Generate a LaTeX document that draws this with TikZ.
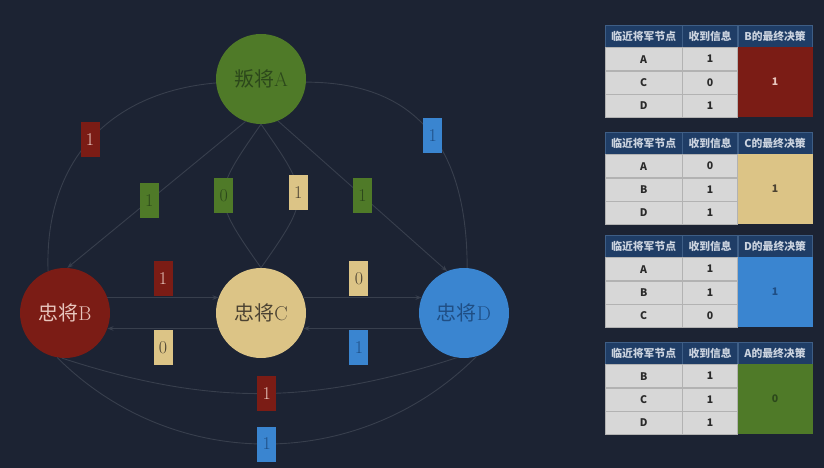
\documentclass[tikz,border=0pt]{standalone}
\usepackage{fontspec}
\newfontfamily\cjk{Noto Sans CJK SC}
\usetikzlibrary{arrows.meta}

\definecolor{bg}{HTML}{1C2333}
\definecolor{edge}{HTML}{383F4D}
\definecolor{colA}{HTML}{4F7A28}
\definecolor{colB}{HTML}{7B1C15}
\definecolor{colC}{HTML}{DCC486}
\definecolor{colD}{HTML}{3A85D0}
\definecolor{txtA}{HTML}{2C481B}
\definecolor{txtB}{HTML}{E8C6BE}
\definecolor{txtC}{HTML}{4B4232}
\definecolor{txtD}{HTML}{1F4E84}
\definecolor{head}{HTML}{1F3D66}
\definecolor{headline}{HTML}{3E5E86}
\definecolor{headtxt}{HTML}{CBD3DF}
\definecolor{cell}{HTML}{D7D7D7}
\definecolor{cellline}{HTML}{B2B2B2}
\definecolor{celltxt}{HTML}{2A2A2A}

\begin{document}
\begin{tikzpicture}[x=1pt,y=1pt,
        general/.style={circle,minimum size=90pt,inner sep=0pt,font=\fontsize{20}{20}\selectfont},
        link/.style={draw=edge,line width=0.9pt},
        msg/.style={link,-{Stealth[length=6pt,width=4.5pt]}},
        flag/.style={minimum width=19pt,minimum height=35pt,inner sep=0pt,font=\fontsize{18}{18}\selectfont},
        flagA/.style={flag,fill=colA,text=txtA},
        flagB/.style={flag,fill=colB,text=txtB},
        flagC/.style={flag,fill=colC,text=txtC},
        flagD/.style={flag,fill=colD,text=txtD},
        hcell/.style={draw=headline,fill=head,text=headtxt,minimum height=22pt,inner sep=0pt,anchor=north west,font=\cjk\bfseries\fontsize{10.8}{10.8}\selectfont},
        bcell/.style={draw=cellline,fill=cell,text=celltxt,minimum height=23pt,inner sep=0pt,anchor=north west,font=\cjk\bfseries\fontsize{10.5}{10.5}\selectfont}]

        % Hintergrund
        \fill[bg] (0, 0) rectangle (824, 468);
        \useasboundingbox (0, 0) rectangle (824, 468);

        % Generale
        \node[general,fill=colA,text=txtA] (A) at (261, 389) {{\cjk 叛将}A};
        \node[general,fill=colB,text=txtB] (B) at (65, 155) {{\cjk 忠将}B};
        \node[general,fill=colC,text=txtC] (C) at (261, 155) {{\cjk 忠将}C};
        \node[general,fill=colD,text=txtD] (D) at (464, 155) {{\cjk 忠将}D};

        % Aussen
        \draw[link] (A.185) to[out=185,in=92,looseness=1.1] node[flagB,pos=0.5] (ab) {1} (B.112);
        \draw[link] (A.356) to[out=0,in=90,looseness=1.2] node[flagD,pos=0.52] (ad) {1} (D.86);

        % Von A
        \draw[msg] (A.250) -- (B.87) node[flagA,pos=0.54] (atob) {1};
        \draw[msg] (A.292) -- (D.112) node[flagA,pos=0.5] (atod) {1};
        \draw[link] (A.south) to[out=235,in=125,looseness=1.55] node[flagA,pos=0.5] (atoc) {0} (C.north);
        \draw[link] (A.south) to[out=305,in=55,looseness=1.55] node[flagC,pos=0.47] (ctoa) {1} (C.north);

        % Mitte
        \draw[msg] (B.20) -- (C.160) node[flagB,pos=0.5,above=1pt] (btoc) {1};
        \draw[msg] (C.200) -- (B.340) node[flagC,pos=0.5,below=1pt] (ctob) {0};
        \draw[msg] (C.20) -- (D.160) node[flagC,pos=0.47,above=1pt] (ctod) {0};
        \draw[msg] (D.200) -- (C.340) node[flagD,pos=0.53,below=1pt] (dtoc) {1};

        % Unten
        \draw[link] (B.266) to[out=-18,in=198] node[flagB,pos=0.52] (bd) {1} (D.261);
        \draw[link] (B.260) to[out=-45,in=225] node[flagD,pos=0.5] (db) {1} (D.286);

        % Tabellen
        \foreach \k/\top/\who/\res/\ra/\va/\rb/\vb/\rc/\vc in {
                1/443/B/1/A/1/C/0/D/1,
                2/336/C/1/A/0/B/1/D/1,
                3/233/D/1/A/1/B/1/C/0,
                4/126/A/0/B/1/C/1/D/1} {
            \node[hcell,minimum width=77pt] (h\k a) at (605, \top) {临近将军节点};
            \node[hcell,minimum width=55pt] (h\k b) at (h\k a.north east) {收到信息};
            \node[hcell,minimum width=74pt] (h\k c) at (h\k b.north east) {\who 的最终决策};
            \node[bcell,minimum width=77pt] (r\k 1a) at (h\k a.south west) {\ra};
            \node[bcell,minimum width=55pt] (r\k 1b) at (r\k 1a.north east) {\va};
            \node[bcell,minimum width=77pt] (r\k 2a) at (r\k 1a.south west) {\rb};
            \node[bcell,minimum width=55pt] (r\k 2b) at (r\k 2a.north east) {\vb};
            \node[bcell,minimum width=77pt] (r\k 3a) at (r\k 2a.south west) {\rc};
            \node[bcell,minimum width=55pt] (r\k 3b) at (r\k 3a.north east) {\vc};
            \node[bcell,minimum width=74pt,minimum height=69pt,draw=col\who,fill=col\who,text=txt\who] (d\k) at (h\k c.south west) {\res};
        }
    \end{tikzpicture}
\end{document}
